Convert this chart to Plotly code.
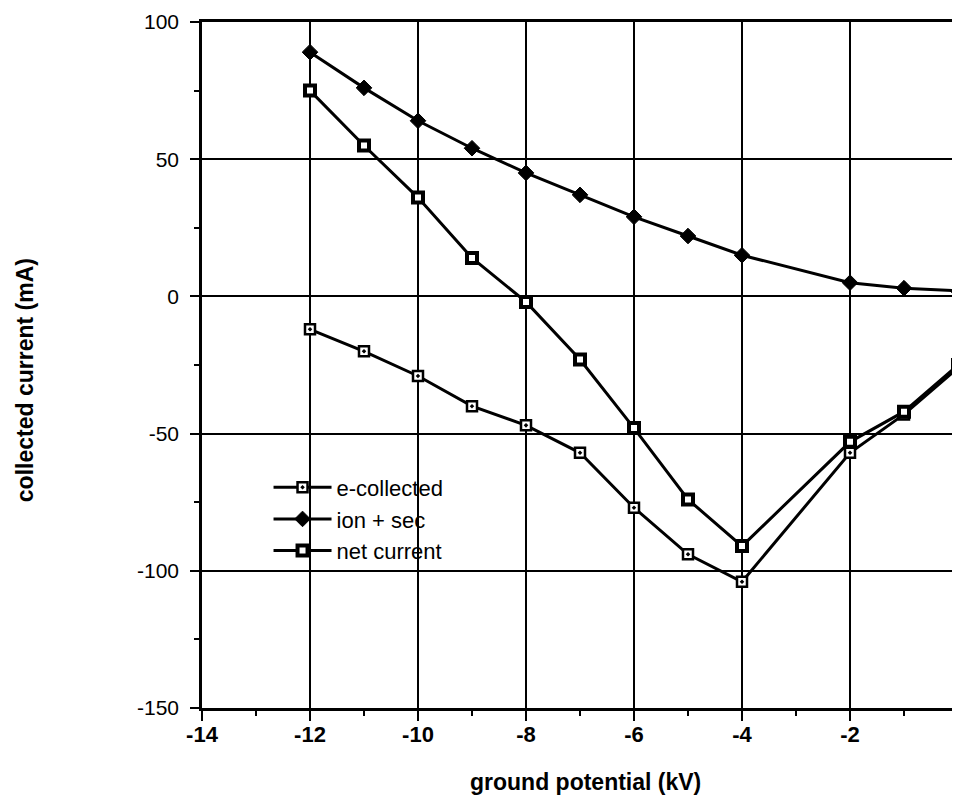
import plotly.graph_objects as go

# Data
x_vals = [-12, -11, -10, -9, -8, -7, -6, -5, -4, -2, -1, 0]
e_collected = [-12, -20, -29, -40, -47, -57, -77, -94, -104, -57, -43, -26]
ion_sec = [89, 76, 64, 54, 45, 37, 29, 22, 15, 5, 3, 2]
net_current = [75, 55, 36, 14, -2, -23, -48, -74, -91, -53, -42, -25]

x_ticks = [-14, -12, -10, -8, -6, -4, -2, 0]
x_ticktext = ["-14", "-12", "-10", "-8", "-6", "-4", "-2", "0"]
y_ticks = [100, 50, 0, -50, -100, -150]
y_ticktext = ["100", "50", "0", "-50", "-100", "-150"]

FONT = "Arial, Liberation Sans, Helvetica, sans-serif"

fig = go.Figure()
fig.add_trace(go.Scatter(
    x=x_vals, y=e_collected, name="e-collected", mode="lines+markers",
    cliponaxis=False,
    line=dict(color="black", width=3),
    marker=dict(symbol="square-dot", size=10, color="white",
                line=dict(color="black", width=2.5)),
))
fig.add_trace(go.Scatter(
    x=x_vals, y=ion_sec, name="ion + sec", mode="lines+markers",
    cliponaxis=False,
    line=dict(color="black", width=3),
    marker=dict(symbol="diamond", size=12, color="black",
                line=dict(color="black", width=1)),
))
fig.add_trace(go.Scatter(
    x=x_vals, y=net_current, name="net current", mode="lines+markers",
    cliponaxis=False,
    line=dict(color="black", width=3),
    marker=dict(symbol="square", size=10, color="white",
                line=dict(color="black", width=4)),
))

axis_common = dict(
    showgrid=True, gridcolor="black", gridwidth=2,
    showline=True, linecolor="black", linewidth=2.5, mirror=True,
    ticks="outside", tickcolor="black", tickwidth=2,
    zeroline=False, automargin=False,
)

fig.update_xaxes(
    **axis_common,
    range=[-14, 0], tickvals=x_ticks, ticktext=x_ticktext, ticklen=10,
    ticklabelstandoff=-5,
    tickfont=dict(family=FONT, size=22, color="black", weight="bold"),
    minor=dict(dtick=1, ticks="outside", ticklen=5, tickwidth=2,
               tickcolor="black", showgrid=False),
)
fig.update_yaxes(
    **axis_common,
    range=[-150, 100], tickvals=y_ticks, ticktext=y_ticktext, ticklen=9,
    ticklabelstandoff=7,
    tickfont=dict(family=FONT, size=21, color="black"),
    minor=dict(dtick=25, ticks="outside", ticklen=5, tickwidth=2,
               tickcolor="black", showgrid=False),
)

fig.update_layout(
    width=960, height=797,
    margin=dict(l=194, r=10, t=14, b=97, autoexpand=False),
    paper_bgcolor="white", plot_bgcolor="white",
    showlegend=True,
    legend=dict(
        x=0.088, y=0.352, xanchor="left", yanchor="top",
        bgcolor="rgba(0,0,0,0)", borderwidth=0,
        itemwidth=58,
        font=dict(family=FONT, size=22, color="black"),
    ),
    annotations=[
        dict(text="ground potential (kV)", xref="paper", yref="paper",
             x=0.507, y=-0.108, xanchor="center", yanchor="middle",
             showarrow=False,
             font=dict(family=FONT, size=23, color="black", weight="bold")),
        dict(text="collected current (mA)", xref="paper", yref="paper",
             x=-0.234, y=0.478, xanchor="center", yanchor="middle",
             textangle=-90, showarrow=False,
             font=dict(family=FONT, size=23, color="black", weight="bold")),
    ],
)

fig.write_html("out.html")
